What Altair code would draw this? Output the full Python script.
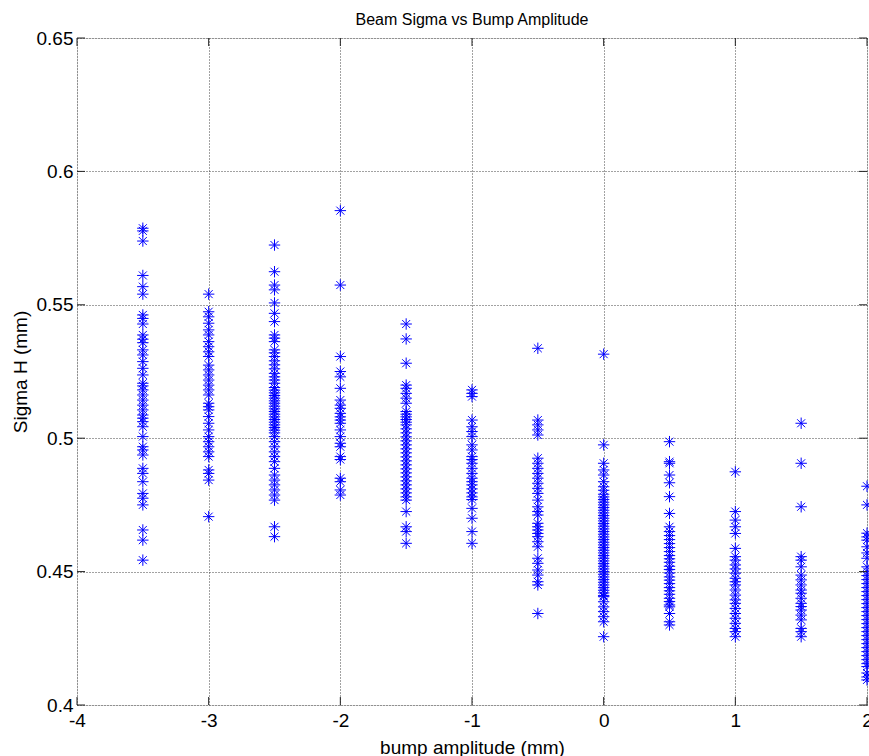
import altair as alt
import pandas as pd

# bump amplitude positions (mm)
bumps = [-3.5, -3.0, -2.5, -2.0, -1.5, -1.0, -0.5, 0.0, 0.5, 1.0, 1.5, 2.0]

sig_m35 = [0.5787, 0.5777, 0.5739, 0.561, 0.5568, 0.554, 0.5462, 0.5449, 0.5428,
           0.5387, 0.5371, 0.5358, 0.5331, 0.5312, 0.5287, 0.5262, 0.5237, 0.5206,
           0.5196, 0.5181, 0.5162, 0.5143, 0.5124, 0.5106, 0.5087, 0.5075, 0.5062,
           0.5043, 0.5006, 0.4968, 0.4956, 0.4937, 0.4887, 0.4868, 0.4837, 0.4793,
           0.4775, 0.475, 0.4656, 0.4618, 0.4543]
sig_m30 = [0.554, 0.5474, 0.5455, 0.5431, 0.5406, 0.5387, 0.5362, 0.5343, 0.5324,
           0.5306, 0.5274, 0.5256, 0.5237, 0.5218, 0.5199, 0.5181, 0.5162, 0.5131,
           0.5118, 0.5106, 0.5081, 0.5056, 0.5031, 0.5006, 0.4987, 0.4968, 0.4949,
           0.4931, 0.4881, 0.4868, 0.4843, 0.4706]
sig_m25 = [0.5724, 0.5624, 0.5574, 0.5556, 0.5507, 0.5468, 0.5437, 0.5387, 0.5375,
           0.5362, 0.5331, 0.532, 0.5306, 0.529, 0.5275, 0.526, 0.5243, 0.523,
           0.5218, 0.5206, 0.519, 0.518, 0.517, 0.516, 0.515, 0.514, 0.5131, 0.512,
           0.511, 0.51, 0.509, 0.508, 0.507, 0.506, 0.505, 0.504, 0.503, 0.502,
           0.5006, 0.4987, 0.4968, 0.4949, 0.4931, 0.4912, 0.4887, 0.4862, 0.4843,
           0.4825, 0.4806, 0.4787, 0.4768, 0.4668, 0.4631]
sig_m20 = [0.5853, 0.5574, 0.5306, 0.525, 0.523, 0.5187, 0.5143, 0.5124, 0.5112,
           0.5093, 0.508, 0.5068, 0.5056, 0.5031, 0.5006, 0.4981, 0.4968, 0.4931,
           0.492, 0.485, 0.4837, 0.4806, 0.4787]
sig_m15 = [0.5428, 0.5372, 0.5281, 0.5199, 0.5187, 0.5168, 0.515, 0.5131, 0.51,
           0.509, 0.508, 0.507, 0.506, 0.505, 0.5035, 0.502, 0.5005, 0.499, 0.4975,
           0.496, 0.4945, 0.493, 0.4915, 0.49, 0.4885, 0.487, 0.4855, 0.484, 0.4825,
           0.481, 0.4795, 0.478, 0.4768, 0.4725, 0.4668, 0.465, 0.4606]
sig_m10 = [0.5181, 0.5168, 0.5156, 0.5068, 0.5043, 0.5025, 0.5006, 0.4975, 0.4956,
           0.4931, 0.492, 0.4906, 0.4887, 0.4868, 0.485, 0.4837, 0.4825, 0.481,
           0.4795, 0.478, 0.477, 0.4737, 0.47, 0.465, 0.4606]
sig_m05 = [0.5337, 0.5068, 0.505, 0.5031, 0.5012, 0.4925, 0.4906, 0.4887, 0.4868,
           0.485, 0.4831, 0.4812, 0.4793, 0.4768, 0.4743, 0.4725, 0.4712, 0.4681,
           0.4668, 0.4656, 0.4643, 0.4631, 0.4612, 0.4593, 0.455, 0.4531, 0.4506,
           0.4487, 0.4462, 0.445, 0.4343]
sig_p00 = [0.5315, 0.4975, 0.4906, 0.4881, 0.4862, 0.4837, 0.4818, 0.4805, 0.479,
           0.478, 0.477, 0.476, 0.475, 0.474, 0.473, 0.472, 0.471, 0.47, 0.469,
           0.468, 0.467, 0.466, 0.465, 0.464, 0.463, 0.462, 0.461, 0.46, 0.459,
           0.458, 0.457, 0.456, 0.455, 0.454, 0.453, 0.452, 0.451, 0.45, 0.449,
           0.448, 0.447, 0.446, 0.445, 0.444, 0.443, 0.442, 0.441, 0.4406, 0.4387,
           0.4368, 0.435, 0.4331, 0.4312, 0.4256]
sig_p05 = [0.4987, 0.4912, 0.4906, 0.4862, 0.4833, 0.4781, 0.4718, 0.4668, 0.465,
           0.4635, 0.462, 0.4605, 0.459, 0.4575, 0.456, 0.4548, 0.4535, 0.452,
           0.4508, 0.4495, 0.448, 0.4468, 0.4455, 0.444, 0.4428, 0.4415, 0.44,
           0.4388, 0.4375, 0.4368, 0.4343, 0.4312, 0.43]
sig_p10 = [0.4874, 0.4725, 0.4693, 0.4668, 0.4643, 0.4587, 0.4556, 0.4543, 0.4525,
           0.451, 0.4494, 0.4475, 0.4462, 0.445, 0.4431, 0.4412, 0.4394, 0.4381,
           0.4362, 0.4343, 0.4325, 0.4306, 0.4287, 0.4275, 0.4256]
sig_p15 = [0.5056, 0.4906, 0.4743, 0.4556, 0.4543, 0.4518, 0.4487, 0.4469, 0.445,
           0.4431, 0.4419, 0.44, 0.4381, 0.4369, 0.4356, 0.4337, 0.4319, 0.4287,
           0.4275, 0.4256]
sig_p20 = [0.482, 0.475, 0.4644, 0.463, 0.4618, 0.4593, 0.457, 0.455, 0.4518, 0.45,
           0.4485, 0.447, 0.4455, 0.444, 0.4425, 0.441, 0.4395, 0.438, 0.4365,
           0.435, 0.4335, 0.432, 0.4305, 0.429, 0.4275, 0.426, 0.4245, 0.423,
           0.4215, 0.42, 0.4185, 0.417, 0.4155, 0.4144, 0.412, 0.4105, 0.4094]

series = [sig_m35, sig_m30, sig_m25, sig_m20, sig_m15, sig_m10, sig_m05,
          sig_p00, sig_p05, sig_p10, sig_p15, sig_p20]

x_ticks = [-4, -3, -2, -1, 0, 1, 2]
y_ticks = [0.4, 0.45, 0.5, 0.55, 0.6, 0.65]

rows = []
for b, vals in zip(bumps, series):
    for v in vals:
        rows.append({"bump": b, "sigma": v})
df = pd.DataFrame(rows)
xt = pd.DataFrame({"bump": x_ticks})
yt = pd.DataFrame({"sigma": y_ticks})

W, H = 790, 667
FONT = "Liberation Sans"
xscale = alt.Scale(domain=[-4, 2], nice=False, zero=False)
yscale = alt.Scale(domain=[0.4, 0.65], nice=False, zero=False)

STAR = "M-1,0H1M0,-1V1M-0.7,-0.7L0.7,0.7M-0.7,0.7L0.7,-0.7"

points = alt.Chart(df).mark_point(
    shape=STAR, filled=False, stroke="#0000ff", strokeWidth=1, size=130, opacity=1
).encode(
    x=alt.X("bump:Q", scale=xscale, title="bump amplitude (mm)",
            axis=alt.Axis(values=x_ticks, labelExpr="'' + datum.value", labelFlush=False,
                          grid=True, gridDash=[1, 2], gridColor="#444", ticks=False, tickSize=0,
                          domain=False, labelPadding=6, titlePadding=8, labelFontSize=19,
                          titleFontSize=19, labelFont=FONT, titleFont=FONT,
                          labelColor="#000", titleColor="#000", titleFontWeight="normal")),
    y=alt.Y("sigma:Q", scale=yscale, title="Sigma H (mm)",
            axis=alt.Axis(values=y_ticks, labelExpr="'' + datum.value",
                          grid=True, gridDash=[1, 2], gridColor="#444", ticks=False, tickSize=0,
                          domain=False, labelPadding=4, titlePadding=6, labelFontSize=19,
                          titleFontSize=19, labelFont=FONT, titleFont=FONT,
                          labelColor="#000", titleColor="#000", titleFontWeight="normal")),
)

TL = 8
tick_style = dict(color="#222", strokeWidth=1)
bottom_ticks = alt.Chart(xt).mark_rule(**tick_style).encode(
    x=alt.X("bump:Q", scale=xscale), y=alt.value(H), y2=alt.value(H - TL))
top_ticks = alt.Chart(xt).mark_rule(**tick_style).encode(
    x=alt.X("bump:Q", scale=xscale), y=alt.value(0), y2=alt.value(TL))
left_ticks = alt.Chart(yt).mark_rule(**tick_style).encode(
    y=alt.Y("sigma:Q", scale=yscale), x=alt.value(0), x2=alt.value(TL))
right_ticks = alt.Chart(yt).mark_rule(**tick_style).encode(
    y=alt.Y("sigma:Q", scale=yscale), x=alt.value(W), x2=alt.value(W - TL))

chart = alt.layer(points, bottom_ticks, top_ticks, left_ticks, right_ticks).properties(
    width=W, height=H,
    title=alt.TitleParams("Beam Sigma vs Bump Amplitude", fontSize=16, font=FONT,
                          fontWeight="normal", color="#000", anchor="middle", offset=1),
    autosize=alt.AutoSizeParams(type="none"),
    padding={"left": 77, "top": 38, "right": 2, "bottom": 51},
).configure_view(stroke="#222", strokeWidth=1).configure(background="white")

chart.save("out.html", embed_options={"renderer": "svg", "actions": False})
